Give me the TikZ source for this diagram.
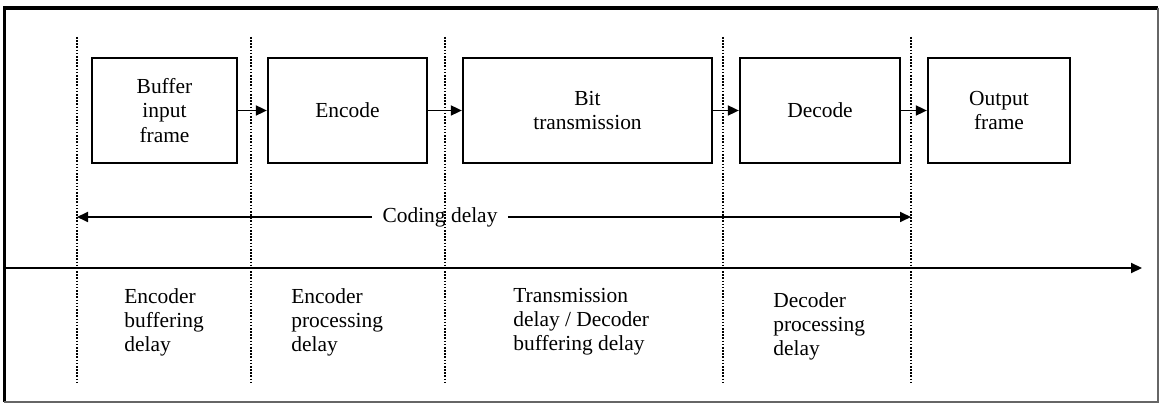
\documentclass[tikz,border=0pt]{standalone}
\usepackage{fontspec}
\setmainfont{Liberation Serif}
\usetikzlibrary{arrows.meta}

\begin{document}
\begin{tikzpicture}[
  blk/.style={draw, line width=1.3pt, minimum height=2.1cm, inner sep=0pt, align=center, font=\fontsize{12.2}{13.7}\selectfont},
  lbl/.style={anchor=north west, inner sep=0pt, align=left, font=\fontsize{12.2}{13.7}\selectfont},
  sep/.style={dash pattern=on 0.9pt off 0.9pt, line width=0.9pt},
  arr/.style={-{Triangle[length=2.2mm, width=2mm]}, line width=1pt},
  frm/.style={line width=2.2pt}]
\useasboundingbox (0,0) rectangle (23.2,8.08);
% frame
\draw[frm] (0.09,0.04) -- (0.09,7.92) -- (23.16,7.92);
\draw[black!60, line width=0.7pt] (23.16,7.92) -- (23.16,0.04) -- (0.09,0.04);
% separators
\coordinate (dt1) at (1.54,7.34); \coordinate (db1) at (1.54,0.40);
\coordinate (dt2) at (5.02,7.34); \coordinate (db2) at (5.02,0.40);
\coordinate (dt3) at (8.90,7.34); \coordinate (db3) at (8.90,0.40);
\coordinate (dt4) at (14.46,7.34); \coordinate (db4) at (14.46,0.40);
\coordinate (dt5) at (18.22,7.34); \coordinate (db5) at (18.22,0.40);
\draw[sep] (dt1) -- (db1); \draw[sep] (dt2) -- (db2); \draw[sep] (dt3) -- (db3); \draw[sep] (dt4) -- (db4); \draw[sep] (dt5) -- (db5);
% stages
\node[blk, minimum width=2.90cm] (buf) at (3.29, 5.87) {Buffer\\ input\\ frame};
\node[blk, minimum width=3.18cm] (enc) at (6.95, 5.87) {Encode};
\node[blk, minimum width=4.98cm] (bit) at (11.75, 5.87) {Bit\\ transmission};
\node[blk, minimum width=3.20cm] (dec) at (16.40, 5.87) {Decode};
\node[blk, minimum width=2.84cm] (out) at (19.98, 5.87) {Output\\ frame};
\draw[arr] (buf) -- (enc); \draw[arr] (enc) -- (bit); \draw[arr] (bit) -- (dec); \draw[arr] (dec) -- (out);
% coding delay
\node[font=\fontsize{12.2}{13.7}\selectfont, inner sep=0.2cm] (cd) at (8.80, 3.74) {Coding delay};
\draw[arr] (cd.west) -- (cd.west -| dt1); \draw[arr] (cd.east) -- (cd.east -| dt5);
% time axis
\coordinate (axl) at (0.09, 2.72); \coordinate (axr) at (22.84, 2.72);
\draw[arr, line width=1.2pt] (axl) -- (axr);
% delays
\node[lbl] (ebd) at (2.48, 2.32) {Encoder\\ buffering\\ delay};
\node[lbl] (epd) at (5.82, 2.32) {Encoder\\ processing\\ delay};
\node[lbl] (tbd) at (10.26, 2.32) {Transmission\\ delay / Decoder\\ buffering delay};
\node[lbl] (dpd) at (15.46, 2.24) {Decoder\\ processing\\ delay};
\end{tikzpicture}
\end{document}
